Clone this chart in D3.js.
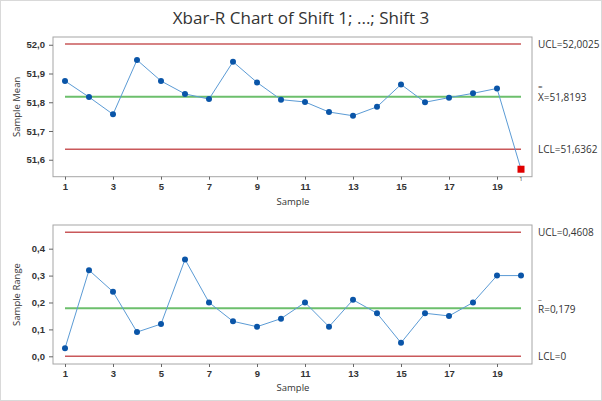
<!DOCTYPE html>
<html><head><meta charset="utf-8">
<script src="https://cdn.jsdelivr.net/npm/d3@7"></script>
<style>body{margin:0;background:#fff}svg{display:block;font-family:"Open Sans","Noto Sans",sans-serif}</style>
</head><body><svg id="c" width="602" height="401"></svg>
<script>
const samples = d3.range(1, 21);
const meanValues = [51.874,51.818,51.758,51.947,51.874,51.829,51.811,51.941,51.869,51.809,51.801,51.766,51.753,51.784,51.862,51.800,51.816,51.831,51.848,51.567];
const rangeValues = [0.03,0.32,0.24,0.09,0.12,0.36,0.20,0.13,0.11,0.14,0.20,0.11,0.21,0.16,0.05,0.16,0.15,0.20,0.30,0.30];
const meanLimits = {ucl:52.0025, cl:51.8193, lcl:51.6362};
const rangeLimits = {ucl:0.4608, cl:0.179, lcl:0};
const meanTicks = [51.6,51.7,51.8,51.9,52.0];
const rangeTicks = [0.0,0.1,0.2,0.3,0.4];
const xTicks = [1,3,5,7,9,11,13,15,17,19];
const meanLabels = ["UCL=52,0025","X=51,8193","LCL=51,6362"];
const rangeLabels = ["UCL=0,4608","R=0,179","LCL=0"];
const failed = [20];

const svg = d3.select("#c");
svg.append("rect").attr("x",0.5).attr("y",0.5).attr("width",601).attr("height",400).attr("fill","#fff").attr("stroke","#d9d9d9");
svg.append("text").attr("x",301).attr("y",24).attr("text-anchor","middle").attr("font-size",17).attr("fill","#333").text("Xbar-R Chart of Shift 1; ...; Shift 3");

const x = d3.scaleLinear().domain([1,20]).range([65,521]);
const fmt = d => d3.format(".1f")(d).replace(".", ",");

function panel(top, bottom, domain, ticks, values, lim, labels, ylab, xlabY, barType){
  const y = d3.scaleLinear().domain(domain).range([bottom, top]);
  const g = svg.append("g");
  g.append("rect").attr("x",53).attr("y",top).attr("width",479).attr("height",bottom-top).attr("fill","none").attr("stroke","#a6a6a6");
  const ya = g.append("g").attr("transform","translate(53,0)").call(d3.axisLeft(y).tickValues(ticks).tickFormat(fmt).tickSize(4).tickSizeOuter(0));
  ya.select(".domain").remove();
  ya.selectAll("line").attr("stroke","#666");
  ya.selectAll("text").attr("font-size",9.5).attr("fill","#333").attr("font-weight",600).attr("dx",-1);
  const xa = g.append("g").attr("transform",`translate(0,${bottom})`).call(d3.axisBottom(x).tickValues(xTicks).tickFormat(d3.format("d")).tickSize(3).tickSizeOuter(0));
  xa.select(".domain").remove();
  xa.selectAll("line").attr("stroke","#666");
  xa.selectAll("text").attr("font-size",9.5).attr("fill","#333").attr("font-weight",600).attr("dy","0.75em");
  const lines = [["ucl","#c9585a"],["cl","#6cbf6c"],["lcl","#c9585a"]];
  lines.forEach(([k,c]) => g.append("line").attr("x1",x(1)).attr("x2",x(20)).attr("y1",y(lim[k])).attr("y2",y(lim[k])).attr("stroke",c).attr("stroke-width",k==="cl"?2:1.5));
  g.append("path").datum(values).attr("fill","none").attr("stroke","#5b9bd5").attr("stroke-width",1)
    .attr("d", d3.line().x((d,i)=>x(samples[i])).y(d=>y(d)));
  values.forEach((v,i) => {
    if (barType && failed.includes(samples[i])) {
      g.append("rect").attr("x",x(samples[i])-3.5).attr("y",y(v)-3.5).attr("width",7).attr("height",7).attr("fill","#e00000");
    } else {
      g.append("circle").attr("cx",x(samples[i])).attr("cy",y(v)).attr("r",3).attr("fill","#0a55a8");
    }
  });
  const keys = ["ucl","cl","lcl"];
  keys.forEach((k,i) => {
    g.append("text").attr("x",538).attr("y",y(lim[k])).attr("dy", k==="cl" ? "0.45em" : "0.35em").attr("font-size",10).attr("fill","#333").text(labels[i]);
  });
  g.append("text").attr("x",538).attr("y",y(lim.cl)-8).attr("font-size",8).attr("fill","#333").text(barType ? "=" : "_");
  g.append("text").attr("transform",`translate(20,${(top+bottom)/2}) rotate(-90)`).attr("text-anchor","middle").attr("font-size",9.5).attr("fill","#333").text(ylab);
  g.append("text").attr("x",293).attr("y",xlabY).attr("text-anchor","middle").attr("font-size",9.5).attr("fill","#333").text("Sample");
  return {y, g};
}

const p1 = panel(37, 176.7, [51.541, 52.027], meanTicks, meanValues, meanLimits, meanLabels, "Sample Mean", 205, true);
failed.forEach(s => {
  const i = samples.indexOf(s);
  p1.g.append("text").attr("x",x(s)).attr("y",p1.y(meanValues[i])+12).attr("text-anchor","middle").attr("font-size",6).attr("fill","#333").text("1");
});
panel(225, 364, [-0.0286, 0.488], rangeTicks, rangeValues, rangeLimits, rangeLabels, "Sample Range", 391, false);
</script></body></html>
